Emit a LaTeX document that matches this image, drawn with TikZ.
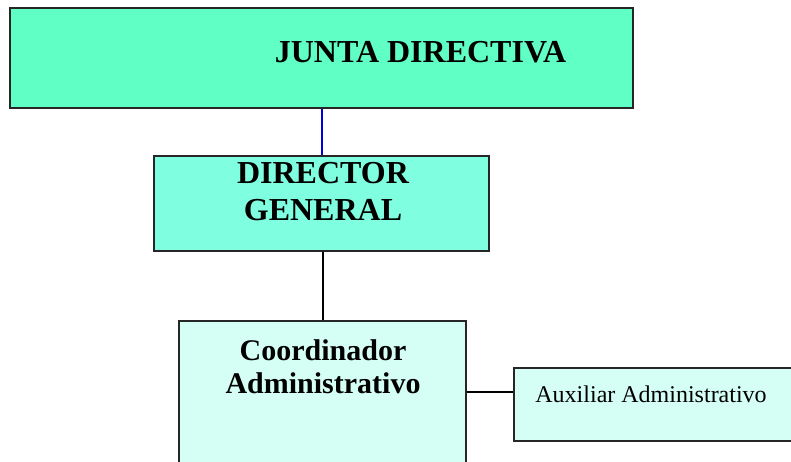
\documentclass[tikz,border=0pt]{standalone}
\usepackage{fontspec}
\setmainfont{Liberation Serif}
\usetikzlibrary{positioning}
\definecolor{juntagreen}{RGB}{95,255,197}
\definecolor{dirgreen}{RGB}{127,255,223}
\definecolor{palegreen}{RGB}{213,255,245}
\definecolor{linkblue}{RGB}{0,0,220}
\tikzset{
  every picture/.style={
    x=0.5pt, y=-0.5pt
  },
  box/.style={
    draw=black!85, line width=0.6pt,
    inner sep=0pt
  },
  link/.style={
    line width=1pt
  },
  bigtitle/.style={
    font=\fontsize{16}{18.5}\selectfont\bfseries,
    align=center, inner sep=0pt
  }
}
\begin{document}
\begin{tikzpicture}
  \useasboundingbox (0,0) rectangle (791,461);
  % boxes
  \node [box,fill=juntagreen,minimum width=311.5pt,minimum height=50pt] (junta) at (321.5,58) {};
  \node [box,fill=dirgreen,minimum width=167.5pt,minimum height=47.5pt] (director) at (321.5,203.5) {};
  \node [box,fill=palegreen,minimum width=143.5pt,minimum height=85pt] (coord) at (322.5,406) {};
  \node [box,fill=palegreen,minimum width=143pt,minimum height=36.5pt] (aux) at (657,404.5) {};
  % texts (base = last line)
  \node [bigtitle,anchor=base] (juntatxt) at (420.5,62) {JUNTA DIRECTIVA};
  \node [bigtitle,anchor=base] (dirtxt) at (323,220) {DIRECTOR\\GENERAL};
  \node [font=\fontsize{15}{16.5}\selectfont\bfseries,align=center,inner sep=0pt,anchor=base]
    (coordtxt) at (323,393) {Coordinador\\Administrativo};
  \node [font=\fontsize{12}{14}\selectfont,inner sep=0pt,anchor=base west]
    (auxtxt) at (535,402) {Auxiliar Administrativo};
  % connectors
  \coordinate (lnk) at (490,392);
  \draw [link,linkblue] (junta.south) -- (director.north);
  \draw [link] (coord.north |- director.south) -- (coord.north);
  \draw [link] (coord.east |- lnk) -- (aux.west |- lnk);
\end{tikzpicture}
\end{document}
